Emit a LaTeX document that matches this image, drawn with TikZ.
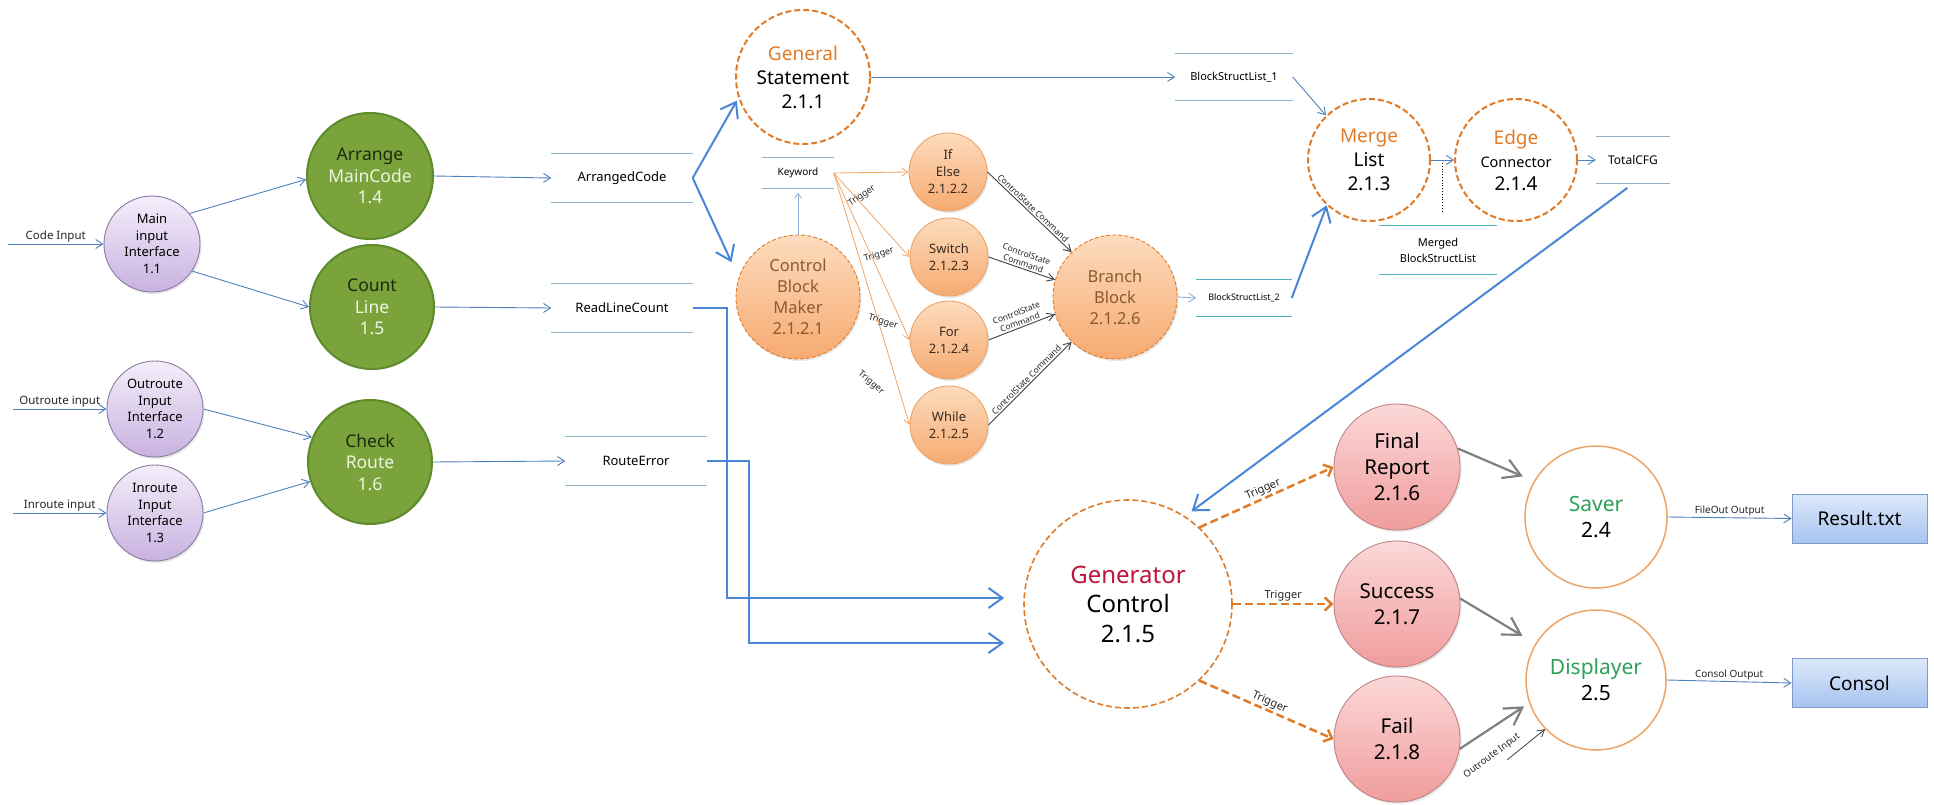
\documentclass[tikz,border=0pt]{standalone}
\usepackage{fontspec}
\setmainfont{Noto Sans}
\usepackage{tikz}
\usetikzlibrary{positioning,calc,arrows.meta,shadows}

\definecolor{flowblue}{HTML}{4F81BD}
\definecolor{lightflow}{HTML}{8FB0D8}
\definecolor{thickblue}{HTML}{4A86D8}
\definecolor{storeline}{HTML}{8DB3C7}
\definecolor{storeteal}{HTML}{4FB0C4}
\definecolor{dashorange}{HTML}{E07B28}
\definecolor{orangeline}{HTML}{EDA468}
\definecolor{trigorange}{HTML}{F2A565}
\definecolor{greenfill}{HTML}{7AA33C}
\definecolor{greenline}{HTML}{5E8A2C}
\definecolor{greentext}{HTML}{EEF5E0}
\definecolor{greendark}{HTML}{1E2A10}
\definecolor{purpletop}{HTML}{F4EEFA}
\definecolor{purplebot}{HTML}{C8B2E0}
\definecolor{purpleline}{HTML}{8C7BA3}
\definecolor{orangetop}{HTML}{FDDCBE}
\definecolor{orangebot}{HTML}{F6AA70}
\definecolor{browntext}{HTML}{8A5A30}
\definecolor{darkbrown}{HTML}{3B2A1E}
\definecolor{pinktop}{HTML}{FCD8D8}
\definecolor{pinkbot}{HTML}{F09C9C}
\definecolor{pinkline}{HTML}{BE8484}
\definecolor{genred}{HTML}{C0143C}
\definecolor{savergreen}{HTML}{2FA05A}
\definecolor{boxtop}{HTML}{DDE9FB}
\definecolor{boxbot}{HTML}{A6C3EF}
\definecolor{boxline}{HTML}{7C9CCB}
\definecolor{grayarrow}{HTML}{7F7F7F}

\newcommand{\fsz}[2]{\fontsize{#1}{#2}\selectfont}

\begin{document}
\begin{tikzpicture}[x=1pt, y=-1pt,
    proc/.style={circle, inner sep=0pt, align=center, minimum size=#1},
    softshadow/.style={drop shadow={shadow xshift=1.5pt, shadow yshift=-2pt, opacity=0.18}},
    purplenode/.style={proc=96pt, draw=purpleline, line width=0.9pt, top color=purpletop, bottom color=purplebot, font=\fsz{13}{16.5}, softshadow},
    greennode/.style={proc=#1, draw=greenline, line width=2pt, fill=greenfill, text=greendark, font=\fsz{17.5}{21.5}},
    dashnode/.style={proc=#1, draw=dashorange, line width=2pt, dash pattern=on 6pt off 3pt, fill=white},
    orangenode/.style={proc=#1, draw=orangeline, line width=0.9pt, top color=orangetop, bottom color=orangebot, softshadow},
    pinknode/.style={proc=126pt, draw=pinkline, line width=0.9pt, top color=pinktop, bottom color=pinkbot, font=\fsz{20.5}{26}, softshadow},
    outnode/.style={proc=#1, draw=orangeline, line width=1.5pt, fill=white, font=\fsz{21}{26}},
    filebox/.style={rectangle, draw=boxline, line width=1pt, top color=boxtop, bottom color=boxbot, minimum width=135pt, minimum height=49pt, font=\fsz{19}{23}},
    store/.style={inner sep=0pt, align=center, font=\fsz{13}{16}},
    storeln/.style={draw=#1, line width=1.3pt},
    flowarrow/.style={draw=flowblue, line width=0.9pt, -{Straight Barb[length=7pt,width=9pt]}},
    bigarrow/.style={draw=thickblue, line width=2pt, -{Straight Barb[length=14pt,width=20pt]}},
    trigarrow/.style={draw=trigorange, line width=0.8pt, -{Straight Barb[length=6pt,width=8pt]}},
    cmdarrow/.style={draw=black!75, line width=0.9pt, -{Straight Barb[length=7pt,width=8pt]}},
    dasharrow/.style={draw=dashorange, line width=2.5pt, dash pattern=on 8pt off 4pt, -{Straight Barb[length=7pt,width=13pt]}},
    grayarr/.style={draw=grayarrow, line width=2.2pt, -{Straight Barb[length=17pt,width=20pt]}},
    lbl/.style={inner sep=1.5pt, text=black!85, font=\fsz{#1}{#1}},
    cmdlbl/.style={inner sep=1.5pt, align=center, text=black!85, font=\fsz{8.5}{10}}]

    \useasboundingbox (0,0) rectangle (1934,805);
    \fill[white] (0,0) rectangle (1934,805);

    % input interfaces
    \node[purplenode] (mainif) at (152,244) {Main\\input\\Interface\\1.1};
    \node[purplenode] (outif) at (155,409) {Outroute\\Input\\Interface\\1.2};
    \node[purplenode] (inif) at (155,513) {Inroute\\Input\\Interface\\1.3};
    \coordinate (codein) at (8,244);
    \coordinate (outin) at (13,409);
    \coordinate (inin) at (13,513);
    \draw[flowarrow] (codein) -- (mainif.west) node[midway, above, lbl=11.5] (codelbl) {Code Input};
    \draw[flowarrow] (outin) -- (outif.west) node[midway, above, lbl=11.5] (outlbl) {Outroute input};
    \draw[flowarrow] (inin) -- (inif.west) node[midway, above, lbl=11.5] (inlbl) {Inroute input};

    \node[greennode=126pt] (arrange) at (370,176) {Arrange\\{\color{greentext}MainCode}\\{\color{greentext}1.4}};
    \node[greennode=124pt] (count) at (372,307) {Count\\{\color{greentext}Line}\\{\color{greentext}1.5}};
    \node[greennode=124pt] (check) at (370,462) {Check\\{\color{greentext}Route}\\{\color{greentext}1.6}};
    \draw[flowarrow] (mainif.39) -- (arrange.183);
    \draw[flowarrow] (mainif.-34) -- (count.180);
    \draw[flowarrow] (outif.0) -- (check.157);
    \draw[flowarrow] (inif.0) -- (check.198);

    % data stores
    \node[store, minimum width=141pt, minimum height=48pt] (arrcode) at (622,178) {ArrangedCode};
    \node[store, minimum width=141pt, minimum height=48pt] (rlcount) at (622,308) {ReadLineCount};
    \node[store, minimum width=141pt, minimum height=48pt] (routeerr) at (636,461) {RouteError};
    \node[store, minimum width=71pt, minimum height=31pt, font=\fsz{10}{12}] (keyword) at (798,173) {Keyword};
    \node[store, minimum width=117pt, minimum height=47pt, font=\fsz{11}{13}] (bsl1) at (1234,77) {BlockStructList\_1};
    \node[store, minimum width=95pt, minimum height=36pt, font=\fsz{9}{11}] (bsl2) at (1244,298) {BlockStructList\_2};
    \node[store, minimum width=118pt, minimum height=48pt, font=\fsz{11}{16}] (merged) at (1438,250) {Merged\\BlockStructList};
    \node[store, minimum width=74pt, minimum height=47pt, font=\fsz{12}{14}] (totalcfg) at (1633,160) {TotalCFG};
    \foreach \s in {arrcode,rlcount,routeerr,keyword,bsl1,totalcfg}
        \draw[storeln=storeline] (\s.north west) -- (\s.north east) (\s.south west) -- (\s.south east);
    \foreach \s in {bsl2,merged}
        \draw[storeln=storeteal] (\s.north west) -- (\s.north east) (\s.south west) -- (\s.south east);
    \draw[flowarrow] (arrange.east) -- (arrcode.west);
    \draw[flowarrow] (count.east) -- (rlcount.west);
    \draw[flowarrow] (check.east) -- (routeerr.west);

    % statement / control block
    \node[dashnode=134pt, font=\fsz{19}{24}] (general) at (803,77) {{\color{dashorange}General}\\Statement\\2.1.1};
    \node[orangenode=124pt, draw=dashorange, dash pattern=on 4pt off 2pt, text=browntext, font=\fsz{16.5}{21}] (cbm) at (798,297) {Control\\Block\\Maker\\2.1.2.1};
    \draw[bigarrow, shorten >=3pt] (arrcode.east) -- (general.198);
    \draw[bigarrow, shorten >=17pt] (arrcode.east) -- (cbm.162);
    \draw[draw=lightflow, line width=0.8pt, -{Straight Barb[length=5pt,width=7pt]}, shorten >=4pt] (cbm.north) -- (keyword.south);

    \node[orangenode=78pt, text=darkbrown, font=\fsz{13}{17}] (ifelse) at (948,172) {If\\Else\\2.1.2.2};
    \node[orangenode=78pt, text=darkbrown, font=\fsz{13}{17}] (switch) at (949,257) {Switch\\2.1.2.3};
    \node[orangenode=78pt, text=darkbrown, font=\fsz{13}{17}] (forloop) at (949,340) {For\\2.1.2.4};
    \node[orangenode=78pt, text=darkbrown, font=\fsz{13}{17}] (whileloop) at (949,425) {While\\2.1.2.5};
    \foreach \t in {ifelse,switch,forloop,whileloop}
        \draw[trigarrow] (keyword.east) -- (\t.west);
    \node[lbl=9, rotate=35] (trig1) at (862,196) {Trigger};
    \node[lbl=9, rotate=17] (trig2) at (879,255) {Trigger};
    \node[lbl=9, rotate=-18] (trig3) at (883,322) {Trigger};
    \node[lbl=9, rotate=-40] (trig4) at (871,383) {Trigger};

    \node[orangenode=124pt, draw=dashorange, dash pattern=on 4pt off 2pt, text=browntext, font=\fsz{16.5}{21}] (branch) at (1115,297) {Branch\\Block\\2.1.2.6};
    \draw[cmdarrow] (ifelse.east) -- (branch.134) node[midway, above, sloped, cmdlbl] (cmd1) {ControlState Command};
    \draw[cmdarrow] (switch.east) -- (branch.164) node[midway, above, sloped, cmdlbl] (cmd2) {ControlState\\Command};
    \draw[cmdarrow] (forloop.east) -- (branch.196) node[midway, above, sloped, cmdlbl] (cmd3) {ControlState\\Command};
    \draw[cmdarrow] (whileloop.east) -- (branch.226) node[midway, above, sloped, cmdlbl] (cmd4) {ControlState Command};
    \draw[flowarrow, draw=lightflow] (branch.east) -- (bsl2.west);

    % merge and edge
    \node[dashnode=122pt, font=\fsz{19}{24}] (merge) at (1369,160) {{\color{dashorange}Merge}\\List\\2.1.3};
    \node[dashnode=122pt, font=\fsz{19}{23}] (edge) at (1516,160) {{\color{dashorange}Edge}\\{\fsz{14.5}{23}Connector}\\2.1.4};
    \draw[flowarrow] (general.east) -- (bsl1.west);
    \draw[flowarrow] (bsl1.east) -- (merge.134);
    \draw[bigarrow] (bsl2.east) -- (merge.227);
    \draw[flowarrow] (merge.east) -- (edge.west);
    \coordinate (mdot) at ($(merge.east)!0.5!(edge.west)$);
    \draw[dotted, line width=0.8pt, shorten <=3pt, shorten >=13pt] (mdot) -- (mdot |- merged.north);
    \draw[flowarrow] (edge.east) -- (totalcfg.west);

    % generator
    \node[dashnode=208pt, line width=1.6pt, font=\fsz{24}{29.5}] (gen) at (1128,604) {{\color{genred}Generator}\\Control\\2.1.5};
    \draw[bigarrow, shorten <=7pt, shorten >=8pt] (totalcfg.south) -- (gen.57);
    \draw[bigarrow, shorten >=19pt] (rlcount.east) -- ++(34,0) |- ([yshift=6pt]gen.west);
    \draw[bigarrow, shorten >=19pt] (routeerr.east) -- ++(42,0) |- ([yshift=-39pt]gen.west);

    \node[pinknode] (final) at (1397,467) {Final\\Report\\2.1.6};
    \node[pinknode] (success) at (1397,604) {Success\\2.1.7};
    \node[pinknode] (fail) at (1397,739) {Fail\\2.1.8};
    \draw[dasharrow] (gen.47) -- (final.west) node[midway, above, sloped, lbl=11] (gtrig1) {Trigger};
    \draw[dasharrow] (gen.east) -- (success.west) node[midway, above, lbl=11] (gtrig2) {Trigger};
    \draw[dasharrow] (gen.-47) -- (fail.west) node[midway, above, sloped, lbl=11] (gtrig3) {Trigger};

    % output
    \node[outnode=142pt] (saver) at (1596,517) {{\color{savergreen}Saver}\\2.4};
    \node[outnode=140pt] (disp) at (1596,680) {{\color{savergreen}Displayer}\\2.5};
    \draw[grayarr, shorten >=12pt] (final.17) -- (saver.150);
    \draw[grayarr, shorten >=15pt] (success.5) -- (disp.149);
    \draw[grayarr, shorten >=6pt] (fail.-9) -- (disp.199);
    \coordinate (outrin) at (1507,760);
    \draw[cmdarrow, line width=0.8pt] (outrin) -- (disp.224);
    \node[lbl=9.5, rotate=37] (outrlbl) at (1492,756) {Outroute Input};

    \node[filebox] (result) at (1859.5,518.5) {Result.txt};
    \node[filebox] (consol) at (1859.5,683) {Consol};
    \draw[flowarrow] (saver.east) -- (result.west) node[midway, above, lbl=10] (filelbl) {FileOut Output};
    \draw[flowarrow] (disp.east) -- (consol.west) node[midway, above, lbl=10] (consollbl) {Consol Output};
\end{tikzpicture}
\end{document}
